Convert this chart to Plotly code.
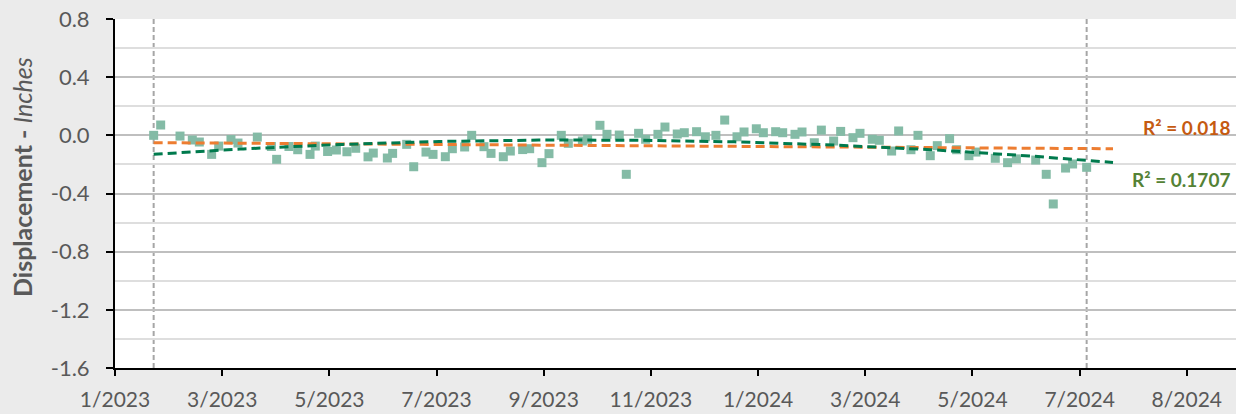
import numpy as np
import pandas as pd
import plotly.graph_objects as go

# ---------------- data ----------------
dates = [
    "2023-01-23", "2023-01-27", "2023-02-07", "2023-02-14", "2023-02-18", "2023-02-25",
    "2023-03-01", "2023-03-08", "2023-03-12", "2023-03-23", "2023-03-31", "2023-04-03",
    "2023-04-10", "2023-04-15", "2023-04-22", "2023-04-25", "2023-05-02", "2023-05-07",
    "2023-05-13", "2023-05-18", "2023-05-25", "2023-05-28", "2023-06-05", "2023-06-08",
    "2023-06-16", "2023-06-20", "2023-06-27", "2023-07-01", "2023-07-08", "2023-07-12",
    "2023-07-19", "2023-07-23", "2023-07-30", "2023-08-03", "2023-08-10", "2023-08-14",
    "2023-08-21", "2023-08-25", "2023-09-01", "2023-09-05", "2023-09-12", "2023-09-16",
    "2023-09-24", "2023-09-27", "2023-10-04", "2023-10-08", "2023-10-15", "2023-10-19",
    "2023-10-26", "2023-10-30", "2023-11-06", "2023-11-10", "2023-11-17", "2023-11-21",
    "2023-11-28", "2023-12-03", "2023-12-09", "2023-12-14", "2023-12-21", "2023-12-25",
    "2024-01-01", "2024-01-05", "2024-01-12", "2024-01-16", "2024-01-23", "2024-01-27",
    "2024-02-03", "2024-02-07", "2024-02-14", "2024-02-18", "2024-02-25", "2024-02-29",
    "2024-03-07", "2024-03-11", "2024-03-18", "2024-03-22", "2024-03-29", "2024-04-02",
    "2024-04-09", "2024-04-13", "2024-04-20", "2024-04-24", "2024-05-01", "2024-05-05",
    "2024-05-16", "2024-05-23", "2024-05-28", "2024-06-08", "2024-06-14", "2024-06-18",
    "2024-06-25", "2024-06-29", "2024-07-07",
]
displacement = [
    0.000, 0.071, -0.005, -0.032, -0.046, -0.131,
    -0.074, -0.029, -0.053, -0.012, -0.077, -0.165,
    -0.077, -0.099, -0.131, -0.074, -0.111, -0.101,
    -0.113, -0.089, -0.148, -0.122, -0.156, -0.124,
    -0.062, -0.216, -0.115, -0.131, -0.147, -0.092,
    -0.080, 0.000, -0.078, -0.124, -0.147, -0.108,
    -0.098, -0.092, -0.188, -0.126, 0.000, -0.055,
    -0.039, -0.027, 0.069, 0.007, 0.002, -0.268,
    0.014, -0.027, 0.007, 0.057, 0.009, 0.018,
    0.025, -0.010, 0.000, 0.105, -0.010, 0.023,
    0.045, 0.018, 0.025, 0.018, 0.007, 0.023,
    -0.051, 0.036, -0.039, 0.027, -0.016, 0.014,
    -0.027, -0.034, -0.108, 0.030, -0.099, 0.000,
    -0.140, -0.071, -0.023, -0.099, -0.140, -0.115,
    -0.158, -0.188, -0.162, -0.170, -0.268, -0.472,
    -0.225, -0.197, -0.220,
]
x_tick_dates = ["2023-01-01", "2023-03-03", "2023-05-03", "2023-07-03", "2023-09-02",
                "2023-11-02", "2024-01-02", "2024-03-03", "2024-05-03", "2024-07-03",
                "2024-09-02"]
x_tick_labels = ["1/2023", "3/2023", "5/2023", "7/2023", "9/2023", "11/2023",
                 "1/2024", "3/2024", "5/2024", "7/2024", "8/2024"]
y_tick_values = [0.8, 0.4, 0.0, -0.4, -0.8, -1.2, -1.6]
y_tick_labels = ["0.8", "0.4", "0.0", "-0.4", "-0.8", "-1.2", "-1.6"]
r2_linear_label = "R² = 0.018"
r2_poly_label = "R² = 0.1707"
forecast_days = 15

# ---------------- trendlines ----------------
t0 = pd.Timestamp("2023-01-01")
d = pd.to_datetime(dates)
days = np.array((d - t0).days, dtype=float)
yv = np.array(displacement)
lin = np.polyfit(days, yv, 1)
poly = np.polyfit(days, yv, 2)
fx = np.linspace(days[0], days[-1] + forecast_days, 300)
fdates = t0 + pd.to_timedelta(fx, unit="D")

FONT = "Lato, 'Open Sans', sans-serif"
GRAY_TXT = "#595959"

fig = go.Figure()
fig.add_trace(go.Scatter(
    x=d, y=yv, mode="markers",
    marker=dict(symbol="square", size=9, color="#84BBA6", line=dict(width=0)),
    showlegend=False, hoverinfo="x+y",
))
fig.add_trace(go.Scatter(
    x=fdates, y=np.polyval(lin, fx), mode="lines",
    line=dict(color="#ED7D31", width=3, dash="9px,5px"),
    showlegend=False, hoverinfo="skip",
))
fig.add_trace(go.Scatter(
    x=fdates, y=np.polyval(poly, fx), mode="lines",
    line=dict(color="#007A4D", width=3, dash="9px,5px"),
    showlegend=False, hoverinfo="skip",
))

# vertical dashed reference lines at first / last reading
for xv in (d[0], d[-1]):
    fig.add_shape(type="line", xref="x", yref="paper", x0=xv, x1=xv, y0=0, y1=1,
                  line=dict(color="#A6A6A6", width=2, dash="5px,3px"), layer="below")

x_end = t0 + pd.Timedelta(days=638)

fig.update_layout(
    width=1236, height=414,
    margin=dict(l=115, r=0, t=19, b=46, autoexpand=False),
    paper_bgcolor="#EBEBEB", plot_bgcolor="#FFFFFF",
    font=dict(family=FONT, color=GRAY_TXT, size=21),
    showlegend=False,
)
fig.update_xaxes(
    type="date", range=[t0, x_end],
    tickmode="array", tickvals=pd.to_datetime(x_tick_dates), ticktext=x_tick_labels,
    showgrid=False, zeroline=False,
    showline=True, linecolor="#000000", linewidth=2,
    ticks="outside", ticklen=6, tickwidth=2, tickcolor="#000000",
    tickfont=dict(size=21, color=GRAY_TXT, family=FONT),
    ticklabelstandoff=6,
)
fig.update_yaxes(
    range=[-1.6, 0.8],
    tickmode="array", tickvals=y_tick_values, ticktext=y_tick_labels,
    showgrid=True, gridcolor="#BFBFBF", gridwidth=2,
    minor=dict(tickmode="linear", tick0=0, dtick=0.2, showgrid=True,
               gridcolor="#DEDEDE", gridwidth=1.5, ticks=""),
    zeroline=False,
    showline=True, linecolor="#000000", linewidth=2,
    ticks="outside", ticklen=7, tickwidth=2, tickcolor="#000000",
    tickfont=dict(size=22, color=GRAY_TXT, family=FONT),
    ticklabelstandoff=12,
)

fig.add_annotation(
    xref="paper", yref="paper", x=(22 - 115) / 1121, y=(368 - 177) / 349,
    text="<b>Displacement - </b><i>Inches</i>", textangle=-90, showarrow=False,
    font=dict(size=25, color=GRAY_TXT, family=FONT), xanchor="center", yanchor="middle",
)
fig.add_annotation(
    xref="paper", yref="y", x=(1232 - 115) / 1121, y=0.054, text="<b>" + r2_linear_label + "</b>",
    showarrow=False, xanchor="right", yanchor="middle",
    font=dict(size=19, color="#C55A11", family=FONT),
)
fig.add_annotation(
    xref="paper", yref="y", x=(1232 - 115) / 1121, y=-0.307, text="<b>" + r2_poly_label + "</b>",
    showarrow=False, xanchor="right", yanchor="middle",
    font=dict(size=19, color="#548235", family=FONT),
)

fig.write_html(
    "out.html",
    config={"displayModeBar": False},
    post_script="document.body.style.margin='0px';document.body.style.background='#EBEBEB';",
)
